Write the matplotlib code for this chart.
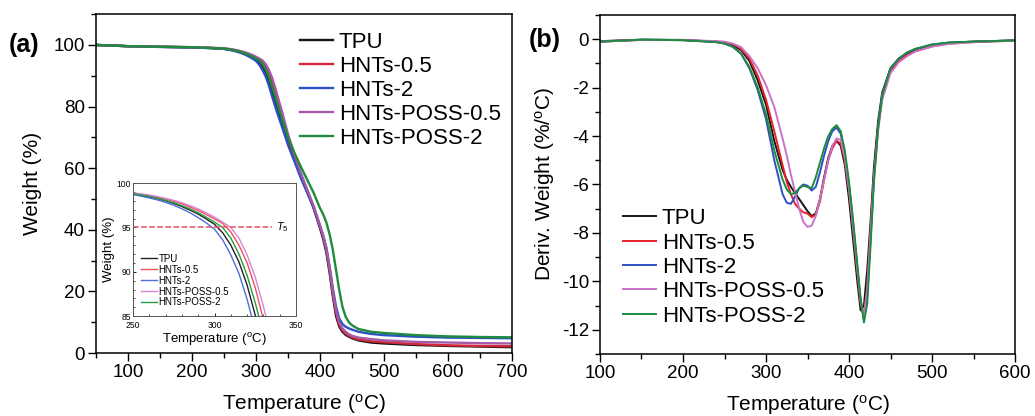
"""TGA and DTG curves of TPU and its HNTs / HNTs-POSS composites."""
import matplotlib
matplotlib.use("Agg")
import matplotlib.pyplot as plt
from matplotlib.ticker import MultipleLocator

plt.rcParams["font.family"] = ["Liberation Sans", "DejaVu Sans"]
plt.rcParams["mathtext.fontset"] = "custom"
plt.rcParams["mathtext.rm"] = "Liberation Sans"
plt.rcParams["mathtext.it"] = "Liberation Sans:italic"
plt.rcParams["axes.unicode_minus"] = False

labels = ["TPU", "HNTs-0.5", "HNTs-2", "HNTs-POSS-0.5", "HNTs-POSS-2"]
colors_a = ["#151515", "#d4283a", "#2f4fc4", "#a45aa6", "#1e8c3c"]
colors_inset = ["#222222", "#f0505a", "#4a70d8", "#d884d8", "#2a9a48"]
colors_b = ["#151515", "#e8222a", "#2f4fc4", "#c872c8", "#1e8c3c"]

# (a) TGA: weight (%) vs temperature (°C)
tga_temp = [50, 100, 150, 200, 230, 250, 255, 260, 265, 270, 275, 280, 285, 290,
            295, 300, 305, 310, 315, 320, 325, 330, 335, 340, 350, 360, 370, 380,
            390, 400, 405, 410, 415, 420, 425, 430, 435, 440, 445, 450, 460, 480,
            500, 550, 600, 650, 700]
tga_tpu = [100.0, 99.6, 99.4, 99.25, 99.0, 98.75, 98.6, 98.45, 98.25, 98.0, 97.7,
           97.35, 96.95, 96.5, 95.95, 95.35, 94.4, 93.0, 91.1, 88.5, 85.1, 81.7,
           78.5, 75.5, 69.0, 63.5, 57.8, 52.8, 47.0, 40.5, 37.0, 32.5, 26.0, 18.5,
           12.0, 8.6, 6.9, 5.9, 5.3, 4.8, 4.1, 3.4, 3.1, 2.6, 2.3, 2.1, 1.9]
tga_hnts05 = [100.0, 99.6, 99.4, 99.25, 99.05, 98.85, 98.72, 98.58, 98.4, 98.2,
              97.95, 97.65, 97.3, 96.9, 96.45, 95.95, 95.45, 94.5, 93.0, 91.0,
              88.2, 84.6, 80.8, 77.2, 69.8, 63.6, 57.5, 52.2, 47.3, 41.0, 37.6,
              33.2, 27.0, 19.5, 13.0, 9.3, 7.4, 6.3, 5.6, 5.1, 4.4, 3.8, 3.5, 2.9,
              2.5, 2.3, 2.2]
tga_hnts2 = [100.0, 99.6, 99.35, 99.2, 98.95, 98.7, 98.52, 98.32, 98.1, 97.82,
             97.5, 97.1, 96.65, 96.1, 95.5, 94.8, 93.6, 91.9, 89.8, 86.9, 83.4,
             80.0, 76.8, 73.8, 67.5, 62.2, 56.8, 52.0, 47.2, 41.2, 38.0, 34.0,
             28.0, 21.0, 15.0, 11.2, 9.4, 8.5, 8.0, 7.6, 6.9, 6.2, 5.8, 5.3, 5.0,
             4.9, 4.8]
tga_poss05 = [100.0, 99.6, 99.4, 99.3, 99.1, 98.9, 98.78, 98.65, 98.48, 98.28,
              98.05, 97.78, 97.45, 97.08, 96.65, 96.15, 95.6, 95.0, 93.8, 91.9,
              89.4, 86.1, 82.4, 78.8, 71.0, 64.5, 58.5, 53.0, 47.8, 41.5, 38.0,
              34.0, 27.5, 20.3, 13.8, 10.0, 8.0, 6.9, 6.1, 5.6, 5.0, 4.5, 4.1,
              3.6, 3.4, 3.2, 3.1]
tga_poss2 = [100.0, 99.6, 99.4, 99.25, 99.0, 98.8, 98.65, 98.48, 98.28, 98.05,
             97.78, 97.45, 97.08, 96.65, 96.15, 95.6, 95.0, 93.8, 92.0, 89.6,
             86.5, 83.0, 79.6, 76.4, 70.0, 65.0, 60.5, 56.2, 52.0, 47.0, 45.0,
             42.3, 38.5, 33.5, 27.0, 20.5, 15.0, 11.8, 10.0, 9.0, 7.8, 6.9, 6.5,
             5.8, 5.4, 5.2, 5.1]

# (b) DTG: derivative weight (%/°C) vs temperature (°C)
dtg_temp = [100, 150, 200, 240, 250, 260, 270, 280, 290, 300, 310, 320, 325, 330,
            335, 340, 345, 350, 355, 360, 365, 370, 375, 380, 385, 390, 395, 400,
            405, 410, 414, 418, 422, 426, 430, 435, 440, 450, 460, 470, 480, 500,
            520, 550, 600]
dtg_tpu = [-0.08, -0.02, -0.03, -0.1, -0.15, -0.25, -0.45, -0.9, -1.7, -2.7, -4.2,
           -5.4, -5.8, -6.1, -6.35, -6.6, -6.85, -7.1, -7.3, -7.2, -6.6, -5.7,
           -4.9, -4.4, -4.2, -4.4, -5.2, -6.6, -8.3, -10.0, -11.2, -11.0, -9.5,
           -7.5, -5.3, -3.4, -2.2, -1.2, -0.8, -0.6, -0.45, -0.25, -0.15, -0.1,
           -0.05]
dtg_hnts05 = [-0.1, -0.03, -0.04, -0.1, -0.13, -0.2, -0.4, -0.8, -1.5, -2.5, -3.8,
              -5.2, -5.9, -6.4, -6.8, -7.0, -7.15, -7.2, -7.35, -7.25, -6.7, -5.8,
              -5.0, -4.5, -4.2, -4.3, -5.0, -6.2, -7.8, -9.6, -10.9, -11.5, -10.2,
              -7.9, -5.6, -3.6, -2.4, -1.3, -0.9, -0.65, -0.5, -0.3, -0.18, -0.12,
              -0.06]
dtg_hnts2 = [-0.1, -0.02, -0.04, -0.12, -0.18, -0.32, -0.6, -1.2, -2.1, -3.3, -5.0,
             -6.4, -6.75, -6.8, -6.5, -6.15, -6.0, -6.05, -6.25, -6.1, -5.5, -4.8,
             -4.2, -3.8, -3.65, -3.9, -4.8, -6.0, -7.6, -9.4, -10.8, -11.6, -10.6,
             -8.2, -5.7, -3.6, -2.3, -1.2, -0.8, -0.55, -0.4, -0.22, -0.14, -0.1,
             -0.05]
dtg_poss05 = [-0.1, -0.03, -0.03, -0.08, -0.1, -0.18, -0.33, -0.7, -1.2, -1.9, -2.8,
              -4.1, -4.8, -5.6, -6.3, -7.0, -7.55, -7.75, -7.7, -7.3, -6.6, -5.8,
              -5.0, -4.4, -4.1, -4.15, -4.9, -6.2, -7.8, -9.5, -10.8, -11.4, -10.3,
              -8.0, -5.8, -3.8, -2.5, -1.4, -0.95, -0.7, -0.5, -0.3, -0.2, -0.12,
              -0.06]
dtg_poss2 = [-0.1, -0.02, -0.04, -0.12, -0.18, -0.3, -0.6, -1.15, -2.0, -3.1, -4.6,
             -5.8, -6.2, -6.4, -6.35, -6.15, -6.05, -6.1, -6.15, -5.7, -5.1, -4.5,
             -4.0, -3.7, -3.55, -3.8, -4.6, -5.9, -7.5, -9.3, -10.7, -11.7, -10.9,
             -8.5, -5.9, -3.7, -2.3, -1.2, -0.8, -0.55, -0.4, -0.22, -0.14, -0.1,
             -0.05]

tga_series = [tga_tpu, tga_hnts05, tga_hnts2, tga_poss05, tga_poss2]
dtg_series = [dtg_tpu, dtg_hnts05, dtg_hnts2, dtg_poss05, dtg_poss2]
t5_level = 95

temp_label = r"Temperature ($^{\mathrm{o}}$C)"


def style_axes(ax, xmajor, xminor, ymajor, yminor):
    ax.xaxis.set_major_locator(MultipleLocator(xmajor))
    ax.xaxis.set_minor_locator(MultipleLocator(xminor))
    ax.yaxis.set_major_locator(MultipleLocator(ymajor))
    ax.yaxis.set_minor_locator(MultipleLocator(yminor))
    ax.tick_params(which="both", direction="out", top=False, right=False,
                   labelsize=13.5, pad=2)
    ax.tick_params(which="major", length=6, width=1)
    ax.tick_params(which="minor", length=3.5, width=1)
    for sp in ax.spines.values():
        sp.set_linewidth(1.1)


fig = plt.figure(figsize=(10.35, 4.16), dpi=100)

# ---- panel (a)
ax1 = fig.add_axes([0.0928, 0.1514, 0.4019, 0.8146])
for y, c, lab in zip(tga_series, colors_a, labels):
    ax1.plot(tga_temp, y, color=c, lw=1.7, label=lab)
ax1.set_xlim(50, 700)
ax1.set_ylim(0, 110)
style_axes(ax1, 100, 50, 20, 10)
ax1.set_xlabel(temp_label, fontsize=15, labelpad=8)
ax1.set_ylabel("Weight (%)", fontsize=15, labelpad=8)
ax1.legend(loc="upper left", bbox_to_anchor=(0.49, 0.948), frameon=False,
           fontsize=16, handlelength=1.5, handletextpad=0.25,
           labelspacing=0.14, borderaxespad=0, borderpad=0)

# inset
axi = fig.add_axes([0.1285, 0.240, 0.1575, 0.320])
for y, c, lab in zip(tga_series, colors_inset, labels):
    axi.plot(tga_temp, y, color=c, lw=1.0, label=lab)
axi.hlines(t5_level, 250, 335, colors="#e2505e", linestyles="--", lw=1.1)
axi.text(338, t5_level, r"$T_5$", fontsize=8, va="center", ha="left")
axi.set_xlim(250, 350)
axi.set_ylim(85, 100)
axi.xaxis.set_major_locator(MultipleLocator(50))
axi.xaxis.set_minor_locator(MultipleLocator(10))
axi.yaxis.set_major_locator(MultipleLocator(5))
axi.yaxis.set_minor_locator(MultipleLocator(1))
axi.tick_params(which="both", direction="in", labelsize=6.2)
axi.tick_params(axis="x", pad=3.5)
axi.tick_params(axis="y", pad=1.5)
axi.tick_params(which="major", length=2.5, width=0.6)
axi.tick_params(which="minor", length=1.5, width=0.5)
for sp in axi.spines.values():
    sp.set_linewidth(0.7)
    sp.set_color("#555555")
axi.set_xlabel(temp_label, fontsize=9.5, labelpad=1)
axi.set_ylabel("Weight (%)", fontsize=9.5, labelpad=1)
axi.legend(loc="upper left", bbox_to_anchor=(0.05, 0.47), frameon=False,
           fontsize=7, handlelength=1.6, handletextpad=0.2,
           labelspacing=0.1, borderaxespad=0, borderpad=0)

# ---- panel (b)
ax2 = fig.add_axes([0.5797, 0.149, 0.4010, 0.815])
for y, c, lab in zip(dtg_series, colors_b, labels):
    ax2.plot(dtg_temp, y, color=c, lw=1.4, label=lab)
ax2.set_xlim(100, 600)
ax2.set_ylim(-13, 1)
style_axes(ax2, 100, 50, 2, 1)
ax2.set_xlabel(temp_label, fontsize=15, labelpad=8)
ax2.set_ylabel(r"Deriv. Weight (%/$^{\mathrm{o}}$C)", fontsize=15, labelpad=3)
ax2.legend(loc="upper left", bbox_to_anchor=(0.055, 0.43), frameon=False,
           fontsize=16, handlelength=1.5, handletextpad=0.25,
           labelspacing=0.15, borderaxespad=0, borderpad=0)

fig.text(0.008, 0.892, "(a)", fontsize=18, fontweight="bold", va="center")
fig.text(0.511, 0.904, "(b)", fontsize=18, fontweight="bold", va="center")

fig.savefig("out.png", dpi=100)
